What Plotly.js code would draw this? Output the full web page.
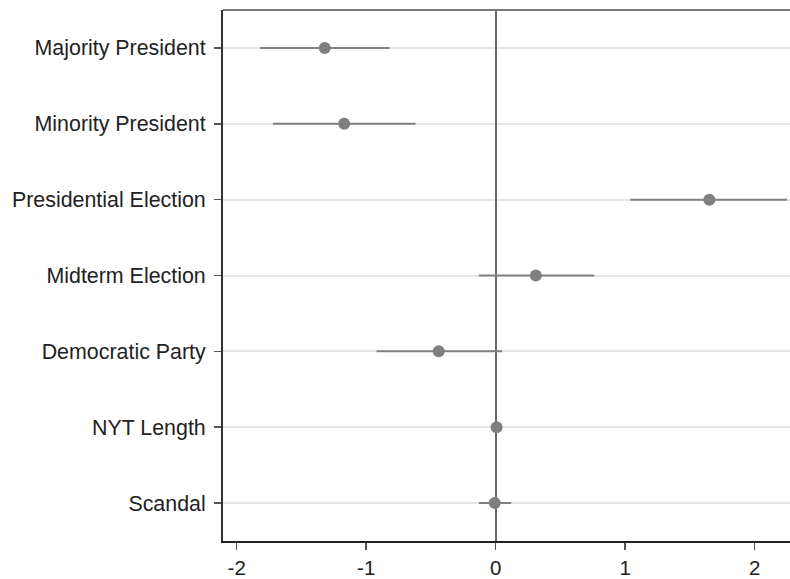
<!DOCTYPE html>
<html>
<head>
<meta charset="utf-8">
<script src="https://cdn.plot.ly/plotly-3.0.1.min.js"></script>
<style>html,body{margin:0;padding:0;background:#fff;}#chart{width:790px;height:579px;}</style>
</head>
<body>
<div id="chart"></div>
<script>
const labels = ['Majority President','Minority President','Presidential Election','Midterm Election','Democratic Party','NYT Length','Scandal'];
const estimates = [-1.32, -1.17, 1.65, 0.31, -0.44, 0.007, -0.007];
const lower = [-1.82, -1.72, 1.04, -0.13, -0.92, -0.003, -0.13];
const upper = [-0.82, -0.62, 2.25, 0.76, 0.05, 0.017, 0.12];
const xTicks = [-2, -1, 0, 1, 2];

const trace = {
  type: 'scatter', mode: 'markers',
  x: estimates, y: labels,
  marker: {color: '#7f7f82', size: 12},
  error_x: {
    type: 'data', symmetric: false,
    array: upper.map((u, i) => u - estimates[i]),
    arrayminus: estimates.map((e, i) => e - lower[i]),
    color: '#808083', thickness: 2, width: 0
  },
  hoverinfo: 'skip', showlegend: false
};

const layout = {
  width: 790, height: 579,
  margin: {l: 223, r: 0, t: 10, b: 38},
  paper_bgcolor: '#fff', plot_bgcolor: '#fff',
  font: {family: 'Liberation Sans, Arial, sans-serif', color: '#222'},
  xaxis: {
    range: [-2.106, 2.273], tickvals: xTicks, ticktext: xTicks.map(String),
    showgrid: false, zeroline: true, zerolinecolor: '#6a6a6a', zerolinewidth: 2,
    showline: true, linecolor: '#222', linewidth: 2,
    ticks: 'outside', ticklen: 7, tickwidth: 1.5, tickcolor: '#555',
    tickfont: {size: 20.5, color: '#222'}
  },
  yaxis: {
    type: 'category', categoryorder: 'array', categoryarray: labels,
    range: [6.5, -0.5],
    showgrid: true, gridcolor: '#e6e6e6', gridwidth: 2,
    showline: true, linecolor: '#333', linewidth: 2,
    ticks: 'outside', ticklen: 7, tickwidth: 1.5, tickcolor: '#555',
    ticklabelstandoff: 4,
    tickfont: {size: 21.4, color: '#222'}
  },
  shapes: [
    {type: 'line', xref: 'paper', yref: 'paper', x0: 0, x1: 1, y0: 1, y1: 1,
     line: {color: '#777', width: 2}}
  ]
};

Plotly.newPlot('chart', [trace], layout, {displayModeBar: false, staticPlot: true});
</script>
</body>
</html>
